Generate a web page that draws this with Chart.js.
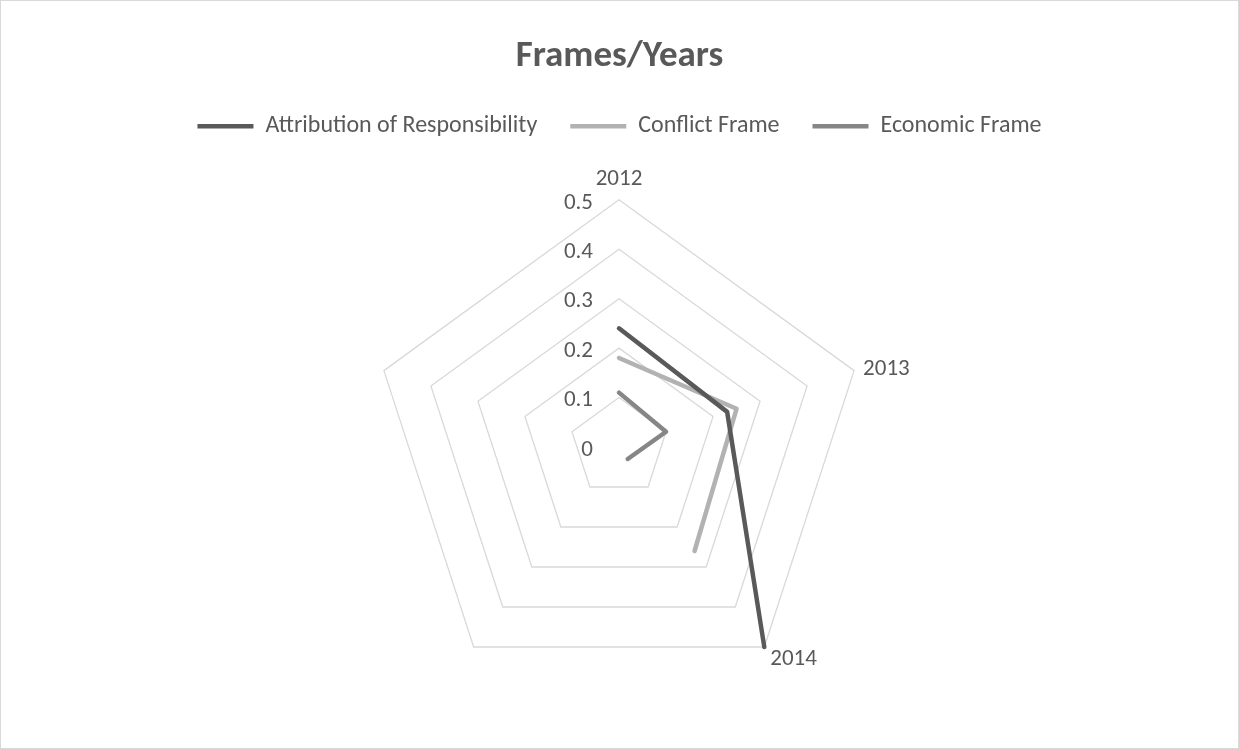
<!DOCTYPE html>
<html>
<head>
<meta charset="utf-8">
<title>Frames/Years</title>
<script src="https://cdn.jsdelivr.net/npm/chart.js@4"></script>
<style>
    body { margin: 0; background: #fff; }
    #wrap {
        width: 1239px;
        height: 749px;
        box-sizing: border-box;
        border: 1px solid #d9d9d9;
        position: relative;
    }
</style>
</head>
<body>
<div id="wrap"><canvas id="frames-chart"></canvas></div>
<script>
// axes: three years, the last two spokes are unused
const categories = ['2012', '2013', '2014', '', ''];
const attribution = [0.24, 0.23, 0.50, null, null];
const conflict = [0.18, 0.25, 0.26, null, null];
const economic = [0.11, 0.10, 0.03, null, null];
const tickValues = [0, 0.1, 0.2, 0.3, 0.4, 0.5];
const tickLabels = ['0', '0.1', '0.2', '0.3', '0.4', '0.5'];

const FONT = "Carlito, Calibri, Lato, sans-serif";
const TEXT_COLOR = '#595959';

// radial tick labels sit left of the top spoke, including the 0 at the centre
const tickLabelPlugin = {
    id: 'tickLabels',
    beforeDatasetsDraw(chart) {
        const scale = chart.scales.r;
        const ctx = chart.ctx;
        ctx.save();
        ctx.font = '23px ' + FONT;
        ctx.fillStyle = TEXT_COLOR;
        ctx.textAlign = 'right';
        ctx.textBaseline = 'middle';
        tickValues.forEach((v, i) => {
            const d = scale.getDistanceFromCenterForValue(v);
            ctx.fillText(tickLabels[i], scale.xCenter - 26, scale.yCenter - d + 3);
        });
        ctx.restore();
    }
};

// category labels hug the outer vertices: centred above the top one,
// vertically centred beside the side ones, hanging below the lower ones
const categoryLabelPlugin = {
    id: 'categoryLabels',
    afterDraw(chart) {
        const scale = chart.scales.r;
        const ctx = chart.ctx;
        ctx.save();
        ctx.font = '23px ' + FONT;
        ctx.fillStyle = TEXT_COLOR;
        ctx.textBaseline = 'middle';
        categories.forEach((label, i) => {
            if (!label) return;
            const angle = scale.getIndexAngle(i);
            const s = Math.sin(angle);
            const c = Math.cos(angle);
            const p = scale.getPointPosition(i, scale.drawingArea);
            let x = p.x;
            let y = p.y;
            if (s > 0.1) { ctx.textAlign = 'left'; x += c < -0.5 ? 6 : 9; }
            else if (s < -0.1) { ctx.textAlign = 'right'; x -= c < -0.5 ? 6 : 9; }
            else { ctx.textAlign = 'center'; }
            if (c > 0.9) y -= 21;
            else if (c < -0.5) y += 12;
            else y -= 1;
            ctx.fillText(label, x, y);
        });
        ctx.restore();
    }
};

function series(label, data, color) {
    return {
        label: label,
        data: data,
        borderColor: color,
        backgroundColor: color,
        borderWidth: 4.5,
        borderCapStyle: 'round',
        borderJoinStyle: 'round',
        pointRadius: 0,
        pointHoverRadius: 0,
        fill: false,
        spanGaps: false
    };
}

function initChart() {
    const ctx = document.getElementById('frames-chart').getContext('2d');
    new Chart(ctx, {
        type: 'radar',
        data: {
            labels: categories,
            datasets: [
                series('Attribution of Responsibility', attribution, '#595959'),
                series('Conflict Frame', conflict, '#b2b2b2'),
                series('Economic Frame', economic, '#868686')
            ]
        },
        options: {
            responsive: true,
            maintainAspectRatio: false,
            animation: false,
            layout: {
                padding: { top: 0, bottom: 35, left: 0, right: 0 }
            },
            plugins: {
                title: {
                    display: true,
                    text: 'Frames/Years',
                    color: TEXT_COLOR,
                    font: { family: FONT, size: 37, weight: 'bold' },
                    padding: { top: 34, bottom: 1.8 }
                },
                legend: {
                    position: 'top',
                    labels: {
                        usePointStyle: true,
                        pointStyle: 'line',
                        pointStyleWidth: 56,
                        color: TEXT_COLOR,
                        font: { family: FONT, size: 24 },
                        padding: 33
                    }
                },
                tooltip: { enabled: false }
            },
            scales: {
                r: {
                    min: 0,
                    max: 0.5,
                    ticks: { stepSize: 0.1, display: false },
                    grid: { color: '#d9d9d9', lineWidth: 1.3 },
                    angleLines: { display: false },
                    // kept for sizing the scale; the text itself is drawn by categoryLabelPlugin
                    pointLabels: {
                        color: 'rgba(0,0,0,0)',
                        font: { family: FONT, size: 23 },
                        padding: 7
                    }
                }
            }
        },
        plugins: [tickLabelPlugin, categoryLabelPlugin]
    });
}

document.addEventListener('DOMContentLoaded', initChart);
</script>
</body>
</html>
